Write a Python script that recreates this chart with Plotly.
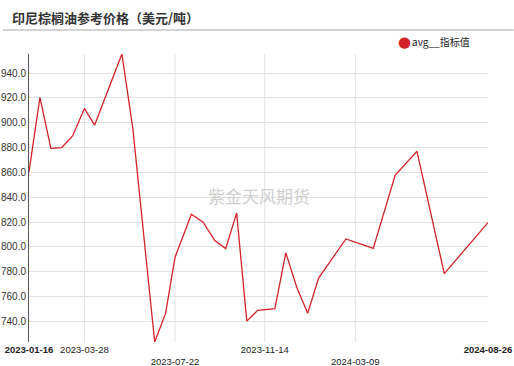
import plotly.graph_objects as go

dates = ["2023-01-16", "2023-01-30", "2023-02-13", "2023-02-27", "2023-03-13", "2023-03-28",
         "2023-04-10", "2023-05-15", "2023-05-29", "2023-06-26", "2023-07-10", "2023-07-22",
         "2023-08-12", "2023-08-27", "2023-09-11", "2023-09-25", "2023-10-09", "2023-10-22",
         "2023-11-05", "2023-11-27", "2023-12-11", "2023-12-25", "2024-01-08", "2024-01-22",
         "2024-02-26", "2024-04-01", "2024-04-29", "2024-05-27", "2024-07-01", "2024-07-29",
         "2024-08-26"]
values = [860.4, 920.4, 879.3, 880.0, 889.5, 911.5,
          898.0, 955.3, 895.4, 723.5, 746.5, 791.5,
          826.4, 820.0, 805.2, 798.7, 827.3, 740.3,
          749.0, 750.3, 795.2, 767.6, 746.6, 775.0,
          806.4, 798.9, 857.7, 877.0, 778.5, 799.0,
          819.6]

tick_dates = ["2023-01-16", "2023-03-28", "2023-07-22", "2023-11-14", "2024-03-09", "2024-08-26"]
tick_labels = ["<b>2023-01-16</b>", "2023-03-28", "<br>2023-07-22", "2023-11-14", "<br>2024-03-09", "<b>2024-08-26</b>"]
grid_dates = tick_dates[1:-1]
y_ticks = [740, 760, 780, 800, 820, 840, 860, 880, 900, 920, 940]

title = "印尼棕榈油参考价格（美元/吨）"
series_name = "avg__指标值"
watermark = "紫金天风期货"

RED = "#d2232a"

fig = go.Figure()
fig.add_trace(go.Scatter(x=dates, y=values, mode="lines", name=series_name,
                         line=dict(color=RED, width=1.3), showlegend=False))

for d in grid_dates:
    fig.add_shape(type="line", xref="x", yref="paper", x0=d, x1=d, y0=0, y1=1,
                  line=dict(color="#e3e3e3", width=1), layer="below")

fig.add_shape(type="line", xref="paper", yref="paper", x0=-0.0566, x1=1.0566,
              y0=1.0833, y1=1.0833, line=dict(color="#a8a8a8", width=1))

fig.add_annotation(text=f"<b>{title}</b>", xref="paper", yref="paper",
                   x=-0.0414, y=1.128, xanchor="left", yanchor="middle", showarrow=False,
                   font=dict(family="Noto Sans CJK SC", size=13, color="#333333"))
fig.add_annotation(text=watermark, xref="paper", yref="paper", x=0.502, y=0.507,
                   xanchor="center", yanchor="middle", showarrow=False,
                   font=dict(family="Noto Sans CJK SC", size=17, color="#cfcfcf"))
# legend (marker + label)
fig.add_annotation(text=f"<span style='color:{RED}'>●</span>",
                   xref="paper", yref="paper", x=(413 - 29) / 459, y=(342 - 42) / 288,
                   xanchor="right", yanchor="middle", showarrow=False,
                   font=dict(family="DejaVu Sans", size=15))
fig.add_annotation(text=series_name, xref="paper", yref="paper", x=(410 - 29) / 459,
                   y=(342 - 42) / 288, xanchor="left", yanchor="middle", showarrow=False,
                   font=dict(family="Noto Sans CJK SC, Liberation Sans", size=10, color="#222"))

fig.update_layout(
    width=514, height=366,
    margin=dict(l=29, r=26, t=54, b=24),
    paper_bgcolor="white", plot_bgcolor="white",
    font=dict(family="Liberation Sans, Arial", size=10, color="#333333"),
    showlegend=False,
    xaxis=dict(type="date", range=[dates[0], dates[-1]], tickvals=tick_dates,
               ticktext=tick_labels, showgrid=False, zeroline=False, showline=False,
               ticks="", tickfont=dict(size=9.5, color="#222"), automargin=False,
               tickangle=0),
    yaxis=dict(range=[min(values), max(values)], tickvals=y_ticks,
               ticktext=[f"{v:.1f}" for v in y_ticks], showgrid=True,
               gridcolor="#e3e3e3", gridwidth=1, zeroline=False, showline=True,
               linecolor="#555555", linewidth=1, ticks="", automargin=False,
               tickfont=dict(size=10, color="#333")),
)

fig.write_html("out.html", post_script="document.body.style.margin='0';",
               config={"displayModeBar": False})
